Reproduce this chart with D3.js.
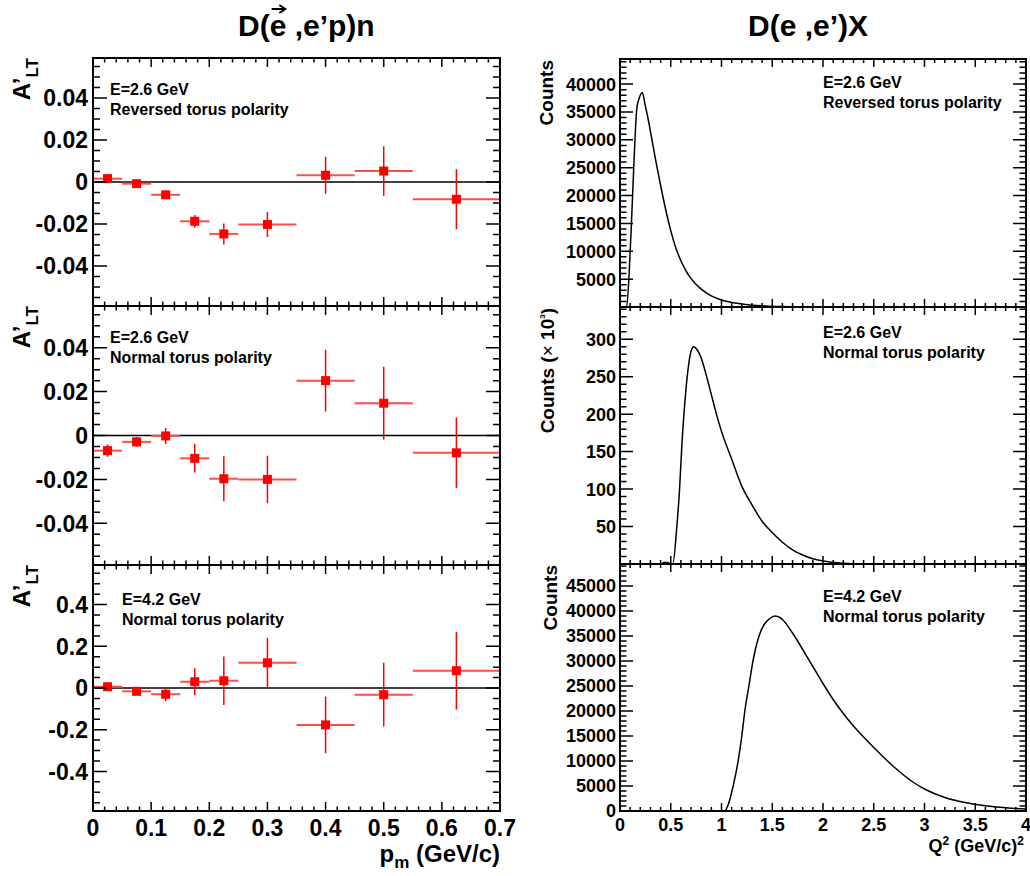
<!DOCTYPE html>
<html>
<head>
<meta charset="utf-8">
<script src="https://cdn.jsdelivr.net/npm/d3@7"></script>
<style>
  body { margin: 0; background: #fff; }
  text { font-family: "Liberation Sans", Arial, Helvetica, sans-serif; font-weight: bold; fill: #000; }
</style>
</head>
<body>
<script>
const width = 1030;
const height = 876;

// ---- data: A'_LT vs p_m (bin centres / half widths shared by all three sets)
const pmCenter = [0.025, 0.075, 0.125, 0.175, 0.225, 0.3, 0.4, 0.5, 0.625];
const pmHalf   = [0.025, 0.025, 0.025, 0.025, 0.025, 0.05, 0.05, 0.05, 0.075];

const altRev26 = [0.0016, -0.0008, -0.0061, -0.0187, -0.0247, -0.0202, 0.0032, 0.0052, -0.0082];
const errRev26 = [0.0010, 0.0010, 0.0012, 0.0030, 0.0050, 0.0060, 0.0088, 0.0118, 0.0143];
const altNor26 = [-0.0069, -0.0029, -0.0002, -0.0104, -0.0197, -0.0200, 0.0250, 0.0147, -0.0079];
const errNor26 = [0.0028, 0.0023, 0.0037, 0.0065, 0.0102, 0.0108, 0.0141, 0.0166, 0.0161];
const altNor42 = [0.006, -0.016, -0.030, 0.030, 0.035, 0.121, -0.177, -0.032, 0.083];
const errNor42 = [0.010, 0.015, 0.033, 0.065, 0.116, 0.120, 0.136, 0.153, 0.186];

// ---- data: Q^2 distributions
const q2Rev26  = [0, 0.065, 0.09, 0.115, 0.14, 0.165, 0.19, 0.22, 0.245, 0.265, 0.285, 0.30, 0.35, 0.40, 0.45, 0.50, 0.55, 0.60, 0.65, 0.70, 0.80, 0.90, 1.0, 1.2, 1.4, 1.6, 1.8, 2.0, 4.0];
const cntRev26 = [0, 0, 6000, 16000, 27000, 35500, 37500, 38500, 36500, 34800, 33000, 31500, 26500, 21800, 17500, 13700, 10600, 8300, 6500, 5100, 3200, 2000, 1250, 550, 220, 80, 20, 0, 0];

const q2Nor26  = [0, 0.41, 0.43, 0.47, 0.50, 0.52, 0.56, 0.587, 0.61, 0.633, 0.667, 0.70, 0.727, 0.76, 0.80, 0.85, 0.90, 0.95, 1.0, 1.1, 1.2, 1.3, 1.4, 1.5, 1.6, 1.7, 1.8, 1.9, 2.0, 2.2, 2.4, 4.0];
const cntNor26 = [0, 0, 2, 2, 0, 0, 50, 100, 160, 205, 256, 284, 290, 286, 275, 252, 226, 200, 177, 140, 104, 79, 57, 42, 29, 19, 12, 7, 4, 1, 0, 0];

const q2Nor42  = [0, 1.03, 1.07, 1.115, 1.164, 1.2, 1.23, 1.27, 1.31, 1.37, 1.42, 1.475, 1.525, 1.575, 1.6, 1.7, 1.8, 1.9, 2.0, 2.1, 2.2, 2.3, 2.4, 2.5, 2.6, 2.7, 2.8, 2.9, 3.0, 3.2, 3.4, 3.6, 3.8, 4.0];
const cntNor42 = [0, 0, 1500, 5000, 10000, 15000, 20000, 25000, 30000, 35000, 37300, 38500, 39000, 38700, 38300, 35600, 32300, 28900, 25500, 22300, 19500, 17000, 14800, 12700, 10700, 8800, 7100, 5600, 4400, 2700, 1700, 1050, 650, 400];

const labelsRev26 = ["E=2.6 GeV", "Reversed torus polarity"];
const labelsNor26 = ["E=2.6 GeV", "Normal torus polarity"];
const labelsNor42 = ["E=4.2 GeV", "Normal torus polarity"];

const svg = d3.select("body").append("svg")
  .attr("width", width)
  .attr("height", height);

// tick helpers
function tickVals(scale, step) {
  const d = scale.domain();
  const lo = Math.ceil(Math.min(d[0], d[1]) / step - 1e-6);
  const hi = Math.floor(Math.max(d[0], d[1]) / step + 1e-6);
  return d3.range(lo, hi + 1).map(i => +(i * step).toFixed(6));
}
const isMajor = (v, step) => Math.abs(v / step - Math.round(v / step)) < 1e-6;
// plain hyphen for negatives, like the original
const fmtTick = (fmt, d) => d === 0 ? "0" : d3.format(fmt)(d).replace("\u2212", "-");

function drawFrame(g, x, y, t) {
  const [x0, x1] = x.range();
  const [y0, y1] = y.range(); // bottom, top
  const p = d3.path();
  tickVals(x, t.xMinor).forEach(v => {
    const len = isMajor(v, t.xMajor) ? t.xLen : t.xLen / 2;
    p.moveTo(x(v), y0); p.lineTo(x(v), y0 - len);
    p.moveTo(x(v), y1); p.lineTo(x(v), y1 + len);
  });
  tickVals(y, t.yMinor).forEach(v => {
    const len = isMajor(v, t.yMajor) ? t.yLen : t.yLen / 2;
    p.moveTo(x0, y(v)); p.lineTo(x0 + len, y(v));
    p.moveTo(x1, y(v)); p.lineTo(x1 - len, y(v));
  });
  g.append("path").attr("d", p.toString())
    .attr("stroke", "#000").attr("stroke-width", 1.5).attr("fill", "none");
  g.append("rect")
    .attr("x", x0).attr("y", y1).attr("width", x1 - x0).attr("height", y0 - y1)
    .attr("fill", "none").attr("stroke", "#000").attr("stroke-width", 2);
}

function yLabels(g, x, y, step, fmt, size, xpos, skipZero) {
  g.selectAll(null)
    .data(tickVals(y, step).filter(v => !(skipZero && v === 0)))
    .enter().append("text")
    .attr("x", xpos).attr("y", d => y(d)).attr("dy", "0.36em")
    .attr("text-anchor", "end").attr("font-size", size)
    .text(d => fmtTick(fmt, d));
}

function xLabels(g, x, step, fmt, size, ypos) {
  g.selectAll(null)
    .data(tickVals(x, step))
    .enter().append("text")
    .attr("x", d => x(d)).attr("y", ypos)
    .attr("text-anchor", "middle").attr("font-size", size)
    .text(d => fmtTick(fmt, d));
}

function note(g, lines, x, y) {
  lines.forEach((s, i) => {
    g.append("text").attr("x", x).attr("y", y + i * 20)
      .attr("font-size", 16).text(s);
  });
}

// ---------------- left column: A'_LT
const xPm = d3.scaleLinear().domain([0, 0.7]).range([93, 500]);

const leftPanels = [
  { top: 58,  bottom: 306, lim: 0.059, major: 0.02, minor: 0.005, fmt: ".2f", val: altRev26, err: errRev26, lines: labelsRev26, tx: 110, ty: 95 },
  { top: 306, bottom: 565, lim: 0.059, major: 0.02, minor: 0.005, fmt: ".2f", val: altNor26, err: errNor26, lines: labelsNor26, tx: 110, ty: 343 },
  { top: 565, bottom: 811, lim: 0.59,  major: 0.2,  minor: 0.05,  fmt: ".1f", val: altNor42, err: errNor42, lines: labelsNor42, tx: 122, ty: 605 }
];

leftPanels.forEach((pn, k) => {
  const g = svg.append("g");
  const y = d3.scaleLinear().domain([-pn.lim, pn.lim]).range([pn.bottom, pn.top]);

  // zero line
  g.append("line")
    .attr("x1", xPm(0)).attr("x2", xPm(0.7))
    .attr("y1", y(0)).attr("y2", y(0))
    .attr("stroke", "#000").attr("stroke-width", 1.5);

  const pts = pmCenter.map((c, i) => ({ c, h: pmHalf[i], v: pn.val[i], e: pn.err[i] }));

  g.selectAll(".hbar").data(pts).enter().append("line")
    .attr("x1", d => xPm(d.c - d.h)).attr("x2", d => xPm(d.c + d.h))
    .attr("y1", d => y(d.v)).attr("y2", d => y(d.v))
    .attr("stroke", "#ff4c4c").attr("stroke-width", 2);

  g.selectAll(".vbar").data(pts).enter().append("line")
    .attr("x1", d => xPm(d.c)).attr("x2", d => xPm(d.c))
    .attr("y1", d => y(d.v - d.e)).attr("y2", d => y(d.v + d.e))
    .attr("stroke", "#ff0000").attr("stroke-width", 1.5);

  g.selectAll(".mark").data(pts).enter().append("rect")
    .attr("x", d => xPm(d.c) - 4.5).attr("y", d => y(d.v) - 4.5)
    .attr("width", 9).attr("height", 9)
    .attr("fill", "#ff0000");

  drawFrame(g, xPm, y, { xMajor: 0.1, xMinor: 0.02, xLen: 9, yMajor: pn.major, yMinor: pn.minor, yLen: 14 });
  yLabels(g, xPm, y, pn.major, pn.fmt, 23, 88, false);
  if (k === 2) xLabels(g, xPm, 0.1, ".1f", 23, 836);
  note(g, pn.lines, pn.tx, pn.ty);

  // axis title A'_LT
  const t = g.append("text")
    .attr("transform", `translate(30,${pn.top}) rotate(-90)`)
    .attr("text-anchor", "end").attr("font-size", 24);
  t.append("tspan").text("A\u2019");
  t.append("tspan").attr("font-size", 17).attr("dy", 8).text("LT");
});

// p_m axis title
const pmTitle = svg.append("text")
  .attr("x", 500).attr("y", 862).attr("text-anchor", "end").attr("font-size", 24);
pmTitle.append("tspan").text("p");
pmTitle.append("tspan").attr("font-size", 17).attr("dy", 6).text("m");
pmTitle.append("tspan").attr("dy", -6).text(" (GeV/c)");

// ---------------- right column: Q^2 distributions
const xQ2 = d3.scaleLinear().domain([0, 4]).range([620, 1026]);

const rightPanels = [
  { top: 59,  bottom: 307, max: 44500, major: 5000, minor: 1000, q2: q2Rev26, cnt: cntRev26, lines: labelsRev26, ty: 88,  lx: 553, skipZero: true },
  { top: 307, bottom: 564, max: 343,   major: 50,   minor: 10,   q2: q2Nor26, cnt: cntNor26, lines: labelsNor26, ty: 338, lx: 554, skipZero: true },
  { top: 564, bottom: 811, max: 49400, major: 5000, minor: 1000, q2: q2Nor42, cnt: cntNor42, lines: labelsNor42, ty: 602, lx: 557, skipZero: false }
];

rightPanels.forEach((pn, k) => {
  const g = svg.append("g");
  const y = d3.scaleLinear().domain([0, pn.max]).range([pn.bottom, pn.top]);

  const clipId = "clip" + k;
  svg.append("clipPath").attr("id", clipId).append("rect")
    .attr("x", 620).attr("y", pn.top).attr("width", 406).attr("height", pn.bottom - pn.top);

  const line = d3.line()
    .x(d => xQ2(d[0]))
    .y(d => y(d[1]))
    .curve(d3.curveMonotoneX);

  g.append("path")
    .datum(pn.q2.map((q, i) => [q, pn.cnt[i]]))
    .attr("d", line)
    .attr("clip-path", `url(#${clipId})`)
    .attr("fill", "none").attr("stroke", "#000").attr("stroke-width", 1.5);

  drawFrame(g, xQ2, y, { xMajor: 0.5, xMinor: 0.1, xLen: 8, yMajor: pn.major, yMinor: pn.minor, yLen: 13 });
  yLabels(g, xQ2, y, pn.major, "d", 18, 616, pn.skipZero);
  if (k === 2) xLabels(g, xQ2, 0.5, "~g", 18, 831);
  note(g, pn.lines, 823, pn.ty);

  const t = g.append("text")
    .attr("transform", `translate(${pn.lx},${pn.top + 1}) rotate(-90)`)
    .attr("text-anchor", "end").attr("font-size", 19);
  if (k === 1) {
    t.append("tspan").text("Counts (");
    t.append("tspan").attr("font-weight", "normal").text("\u00d7");
    t.append("tspan").text(" 10");
    t.append("tspan").attr("font-size", 8).attr("dy", -9).text("3");
    t.append("tspan").attr("dy", 9).text(")");
  } else {
    t.text("Counts");
  }
});

// Q^2 axis title
const qTitle = svg.append("text")
  .attr("x", 1024).attr("y", 852).attr("text-anchor", "end").attr("font-size", 18);
qTitle.append("tspan").text("Q");
qTitle.append("tspan").attr("font-size", 12).attr("dy", -7).text("2");
qTitle.append("tspan").attr("dy", 7).text(" (GeV/c)");
qTitle.append("tspan").attr("font-size", 12).attr("dy", -7).text("2");

// ---------------- titles
const leftTitle = svg.append("text")
  .attr("x", 238).attr("y", 36).attr("font-size", 30)
  .text("D(e ,e\u2019p)n");
svg.append("text")
  .attr("x", 748).attr("y", 36).attr("font-size", 30)
  .text("D(e ,e\u2019)X");

// vector arrow over the polarised electron
const ext = leftTitle.node().getExtentOfChar(2);
const ax0 = ext.x + 2, ax1 = ext.x + ext.width - 1, ay = 9;
svg.append("path")
  .attr("d", `M${ax0},${ay}L${ax1},${ay}M${ax1 - 6},${ay - 4}L${ax1},${ay}L${ax1 - 6},${ay + 4}`)
  .attr("fill", "none").attr("stroke", "#000").attr("stroke-width", 2);
</script>
</body>
</html>
